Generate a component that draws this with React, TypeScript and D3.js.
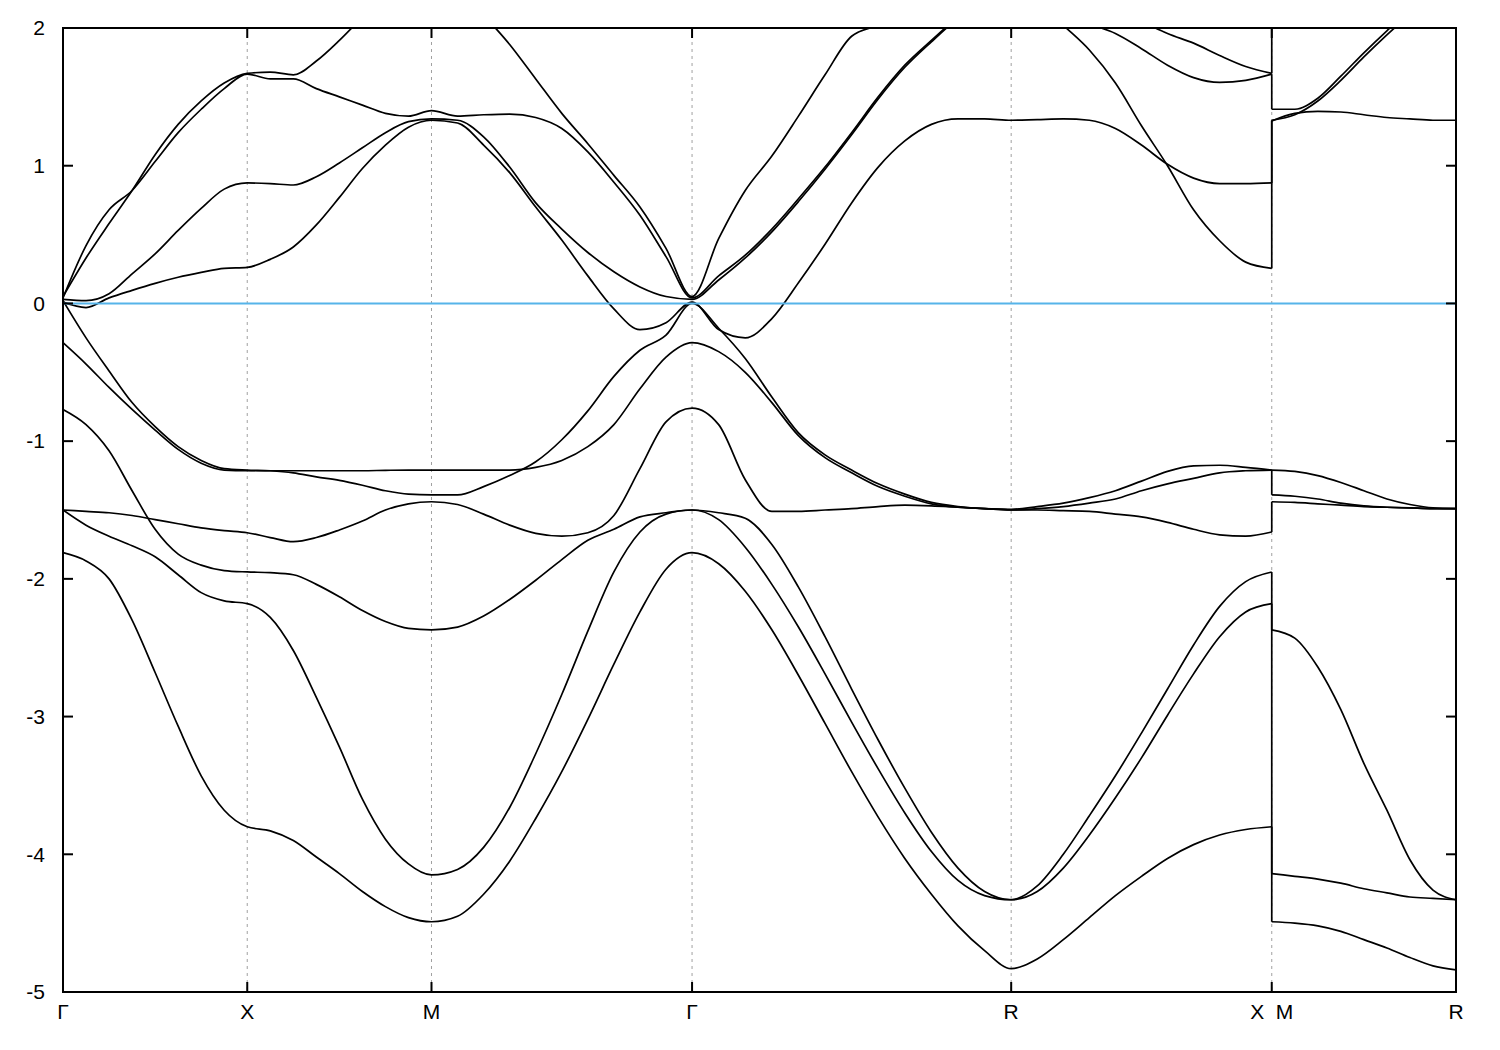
import React from "react";
import * as d3 from "d3";

// High-symmetry path labels and relative segment lengths (Γ-X, X-M, M-Γ, Γ-R, R-X, break, M-R)
const pathLabels = ["Γ", "X", "M", "Γ", "R", "X  M", "R"];
const segLengths = [1, 1, Math.SQRT2, Math.sqrt(3), Math.SQRT2, 0, 1];
const segDivisions = [8, 8, 10, 12, 10];
const mrDivisions = 8;
const yTickValues = [2, 1, 0, -1, -2, -3, -4, -5];

// Bands along Γ-X-M-Γ-R-X (one array of energies per segment)
const bandA1 = [
  [0.04, 0.42, 0.68, 0.82, 1.03, 1.24, 1.41, 1.56, 1.665],
  [1.665, 1.63, 1.63, 1.56, 1.5, 1.44, 1.38, 1.36, 1.4],
  [1.4, 1.36, 1.37, 1.375, 1.35, 1.27, 1.1, 0.88, 0.64, 0.34, 0.04],
  [0.04, 0.2, 0.35, 0.54, 0.76, 0.99, 1.24, 1.5, 1.73, 1.91, 2.08, 2.22, 2.35],
  [2.35, 2.2, 2.02, 1.84, 1.6, 1.29, 1.0, 0.68, 0.455, 0.3, 0.255],
];
const bandA2 = [
  [0.05, 0.33, 0.58, 0.82, 1.08, 1.3, 1.47, 1.6, 1.67],
  [1.67, 1.68, 1.66, 1.76, 1.91, 2.08, 2.25, 2.35, 2.4],
  [2.4, 2.35, 2.1, 1.88, 1.63, 1.38, 1.16, 0.93, 0.7, 0.4, 0.05],
  [0.05, 0.47, 0.82, 1.07, 1.36, 1.66, 1.94, 2.02, 2.1, 2.2, 2.3, 2.4, 2.5],
  [2.5, 2.4, 2.3, 2.22, 2.15, 2.05, 1.96, 1.89, 1.8, 1.72, 1.67],
];
const bandB = [
  [0.03, 0.02, 0.07, 0.215, 0.36, 0.53, 0.69, 0.83, 0.875],
  [0.875, 0.87, 0.86, 0.92, 1.02, 1.13, 1.24, 1.32, 1.34],
  [1.34, 1.33, 1.21, 0.99, 0.73, 0.54, 0.37, 0.23, 0.12, 0.05, 0.03],
  [0.03, 0.17, 0.33, 0.52, 0.74, 0.975, 1.225, 1.485, 1.715, 1.9, 2.07, 2.2, 2.3],
  [2.3, 2.2, 2.11, 2.03, 1.96, 1.85, 1.73, 1.64, 1.605, 1.62, 1.665],
];
const bandC = [
  [0.01, -0.03, 0.04, 0.095, 0.146, 0.19, 0.225, 0.255, 0.262],
  [0.262, 0.32, 0.41, 0.57, 0.77, 0.98, 1.15, 1.28, 1.33],
  [1.33, 1.31, 1.15, 0.95, 0.7, 0.46, 0.2, -0.04, -0.19, -0.14, 0.01],
  [0.01, -0.19, -0.25, -0.11, 0.15, 0.43, 0.73, 0.99, 1.18, 1.3, 1.34, 1.34, 1.33],
  [1.33, 1.335, 1.34, 1.33, 1.27, 1.15, 1.01, 0.91, 0.87, 0.87, 0.875],
];
const bandE = [
  [0.02, -0.25, -0.49, -0.72, -0.895, -1.04, -1.14, -1.2, -1.21],
  [-1.21, -1.215, -1.23, -1.26, -1.285, -1.32, -1.36, -1.385, -1.39],
  [-1.39, -1.39, -1.33, -1.25, -1.15, -0.99, -0.78, -0.53, -0.34, -0.23, 0.0],
  [0.0, -0.18, -0.4, -0.68, -0.94, -1.1, -1.21, -1.31, -1.385, -1.445, -1.475, -1.49, -1.495],
  [-1.495, -1.475, -1.45, -1.41, -1.36, -1.29, -1.22, -1.18, -1.175, -1.19, -1.21],
];
const bandF = [
  [-0.285, -0.44, -0.61, -0.77, -0.92, -1.06, -1.16, -1.21, -1.215],
  [-1.215, -1.215, -1.215, -1.215, -1.215, -1.215, -1.212, -1.21, -1.21],
  [-1.21, -1.21, -1.21, -1.21, -1.19, -1.14, -1.04, -0.88, -0.62, -0.39, -0.285],
  [-0.285, -0.35, -0.5, -0.72, -0.96, -1.12, -1.23, -1.33, -1.4, -1.455, -1.48, -1.49, -1.5],
  [-1.5, -1.49, -1.475, -1.45, -1.42, -1.36, -1.31, -1.27, -1.23, -1.215, -1.21],
];
const bandG = [
  [-0.77, -0.88, -1.07, -1.36, -1.64, -1.82, -1.9, -1.94, -1.95],
  [-1.95, -1.955, -1.97, -2.04, -2.13, -2.23, -2.31, -2.36, -2.37],
  [-2.37, -2.35, -2.27, -2.15, -2.01, -1.86, -1.72, -1.64, -1.55, -1.52, -1.5],
  [-1.5, -1.52, -1.56, -1.75, -2.06, -2.42, -2.8, -3.17, -3.52, -3.84, -4.1, -4.27, -4.33],
  [-4.33, -4.23, -4.0, -3.72, -3.43, -3.12, -2.8, -2.48, -2.2, -2.02, -1.95],
];
const bandH = [
  [-1.5, -1.51, -1.52, -1.54, -1.57, -1.6, -1.63, -1.65, -1.665],
  [-1.665, -1.7, -1.73, -1.7, -1.645, -1.58, -1.5, -1.455, -1.44],
  [-1.44, -1.46, -1.53, -1.61, -1.67, -1.69, -1.665, -1.54, -1.2, -0.86, -0.76],
  [-0.76, -0.88, -1.28, -1.51, -1.51, -1.5, -1.49, -1.475, -1.465, -1.47, -1.48, -1.49, -1.5],
  [-1.5, -1.5, -1.505, -1.51, -1.53, -1.55, -1.59, -1.64, -1.68, -1.69, -1.66],
];
const bandI = [
  [-1.5, -1.61, -1.69, -1.76, -1.84, -1.97, -2.1, -2.16, -2.18],
  [-2.18, -2.28, -2.52, -2.86, -3.22, -3.6, -3.89, -4.07, -4.15],
  [-4.15, -4.11, -3.95, -3.66, -3.27, -2.84, -2.38, -1.95, -1.66, -1.53, -1.5],
  [-1.5, -1.57, -1.77, -2.04, -2.35, -2.69, -3.04, -3.38, -3.7, -3.98, -4.19, -4.3, -4.33],
  [-4.33, -4.27, -4.1, -3.86, -3.59, -3.3, -2.99, -2.69, -2.42, -2.24, -2.18],
];
const bandJ = [
  [-1.81, -1.87, -2.0, -2.3, -2.68, -3.07, -3.43, -3.68, -3.8],
  [-3.8, -3.83, -3.9, -4.02, -4.14, -4.27, -4.38, -4.46, -4.49],
  [-4.49, -4.45, -4.29, -4.05, -3.74, -3.4, -3.02, -2.62, -2.24, -1.93, -1.81],
  [-1.81, -1.89, -2.09, -2.37, -2.7, -3.05, -3.4, -3.73, -4.03, -4.29, -4.52, -4.7, -4.83],
  [-4.83, -4.76, -4.62, -4.46, -4.3, -4.16, -4.03, -3.93, -3.86, -3.82, -3.8],
];

// Bands along M-R (after the path break)
const mrBand0 = [-4.49, -4.5, -4.52, -4.56, -4.62, -4.68, -4.75, -4.81, -4.84];
const mrBand1 = [-4.14, -4.16, -4.18, -4.21, -4.25, -4.28, -4.31, -4.32, -4.33];
const mrBand2 = [-2.37, -2.43, -2.64, -2.95, -3.34, -3.68, -4.04, -4.26, -4.33];
const mrBand3 = [-1.44, -1.445, -1.455, -1.465, -1.475, -1.48, -1.485, -1.49, -1.49];
const mrBand4 = [-1.39, -1.4, -1.42, -1.45, -1.47, -1.48, -1.485, -1.49, -1.49];
const mrBand5 = [-1.21, -1.22, -1.25, -1.3, -1.36, -1.42, -1.46, -1.485, -1.49];
const mrBand6 = [1.325, 1.38, 1.395, 1.39, 1.37, 1.35, 1.34, 1.33, 1.33];
const mrBand7 = [1.33, 1.37, 1.47, 1.62, 1.79, 1.95, 2.1, 2.25, 2.35];
const mrBand8 = [1.41, 1.41, 1.49, 1.65, 1.82, 1.98, 2.13, 2.28, 2.4];
const mrBand9 = [2.5, 2.55, 2.6, 2.65, 2.7, 2.75, 2.8, 2.85, 2.9];

const mainBands = [bandA1, bandA2, bandB, bandC, bandE, bandF, bandG, bandH, bandI, bandJ];
const mrBands = [mrBand0, mrBand1, mrBand2, mrBand3, mrBand4, mrBand5, mrBand6, mrBand7, mrBand8, mrBand9];

type Pt = [number, number];

export default function App() {
  const W = 1500;
  const H = 1050;
  const left = 63, right = 1456, top = 28, bottom = 992;

  const nodeK: number[] = [0];
  segLengths.forEach((l) => nodeK.push(nodeK[nodeK.length - 1] + l));

  const x = d3.scaleLinear().domain([0, nodeK[nodeK.length - 1]]).range([left, right]);
  const y = d3.scaleLinear().domain([-5, 2]).range([bottom, top]);

  const toPts1 = (segs: number[][]): Pt[] => {
    const pts: Pt[] = [];
    segs.forEach((vals, s) => {
      const n = segDivisions[s];
      vals.forEach((v, j) => {
        if (s > 0 && j === 0) return;
        pts.push([nodeK[s] + ((nodeK[s + 1] - nodeK[s]) * j) / n, v]);
      });
    });
    return pts;
  };
  const toPts2 = (vals: number[]): Pt[] =>
    vals.map((v, j) => [nodeK[6] + ((nodeK[7] - nodeK[6]) * j) / mrDivisions, v] as Pt);

  const line = d3
    .line<Pt>()
    .x((d) => x(d[0]))
    .y((d) => y(d[1]))
    .curve(d3.curveMonotoneX);

  const part1 = mainBands.map(toPts1);
  const part2 = mrBands.map(toPts2);

  const ends = part1.map((p) => p[p.length - 1][1]).sort((a, b) => a - b);
  const starts = part2.map((p) => p[0][1]).sort((a, b) => a - b);
  const connectors = ends.map((e, i) => [e, starts[i]]);

  const gridK = Array.from(new Set(nodeK.slice(1, nodeK.length - 1)));
  const labelK = [0, 1, 2, 3, 4, 5, 7].map((i) => nodeK[i]);

  const font = "'Liberation Sans', Arial, Helvetica, sans-serif";
  const tickLen = 10;

  return (
    <svg
      width={W}
      height={H}
      style={{ position: "absolute", left: 0, top: 0, background: "#fff" }}
    >
      <rect x={0} y={0} width={W} height={H} fill="#fff" />
      <defs>
        <clipPath id="plotClip">
          <rect x={left} y={top} width={right - left} height={bottom - top} />
        </clipPath>
      </defs>
      {gridK.map((k, i) => (
        <line
          key={"g" + i}
          x1={x(k)}
          x2={x(k)}
          y1={top}
          y2={bottom}
          stroke="#a0a0a0"
          strokeWidth={1}
          strokeDasharray="3,4"
        />
      ))}
      <g clipPath="url(#plotClip)" fill="none" stroke="#000" strokeWidth={1.7}>
        {part1.map((p, i) => (
          <path key={"a" + i} d={line(p) || ""} />
        ))}
        {part2.map((p, i) => (
          <path key={"b" + i} d={line(p) || ""} />
        ))}
        {connectors.map(([e0, e1], i) => (
          <line key={"c" + i} x1={x(nodeK[5])} x2={x(nodeK[6])} y1={y(e0)} y2={y(e1)} />
        ))}
        <line x1={left} x2={right} y1={y(0)} y2={y(0)} stroke="#56b4e9" strokeWidth={2} />
      </g>
      <rect
        x={left}
        y={top}
        width={right - left}
        height={bottom - top}
        fill="none"
        stroke="#000"
        strokeWidth={2}
      />
      {yTickValues.map((v) => (
        <g key={"y" + v}>
          <line x1={left} x2={left + tickLen} y1={y(v)} y2={y(v)} stroke="#000" strokeWidth={2} />
          <line x1={right - tickLen} x2={right} y1={y(v)} y2={y(v)} stroke="#000" strokeWidth={2} />
          <text
            x={45}
            y={y(v)}
            dy="0.35em"
            textAnchor="end"
            fontFamily={font}
            fontSize={21}
            fill="#000"
          >
            {String(v)}
          </text>
        </g>
      ))}
      {labelK.map((k, i) => (
        <g key={"x" + i}>
          <line x1={x(k)} x2={x(k)} y1={top} y2={top + tickLen} stroke="#000" strokeWidth={2} />
          <line x1={x(k)} x2={x(k)} y1={bottom - tickLen} y2={bottom} stroke="#000" strokeWidth={2} />
          <text
            x={x(k)}
            y={1019}
            textAnchor="middle"
            fontFamily={font}
            fontSize={21}
            fill="#000"
            style={{ whiteSpace: "pre" }}
          >
            {pathLabels[i]}
          </text>
        </g>
      ))}
    </svg>
  );
}
